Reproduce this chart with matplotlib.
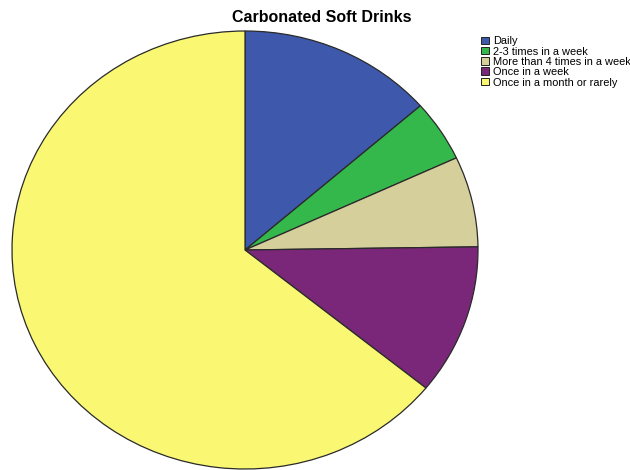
import matplotlib
matplotlib.use("Agg")
import matplotlib.pyplot as plt
from matplotlib.patches import Rectangle

plt.rcParams['font.family'] = ['Liberation Sans', 'DejaVu Sans']

categories = ["Daily", "2-3 times in a week", "More than 4 times in a week",
              "Once in a week", "Once in a month or rarely"]
values = [13.56, 4.53, 6.68, 11.08, 64.15]
colors = ["#3E58AC", "#35B84B", "#D5CF9C", "#7A277A", "#FAF872"]

W, H = 630, 470
fig = plt.figure(figsize=(W / 100, H / 100), dpi=100)
cx, cy, rx, ry = 245, 250, 233, 219
ax = fig.add_axes([(cx - rx) / W, 1 - (cy + ry) / H, 2 * rx / W, 2 * ry / H])
ax.pie(values, colors=colors, startangle=90, counterclock=False,
       wedgeprops=dict(edgecolor="#2a2a2a", linewidth=0.9))
ax.set_aspect('auto')
ax.set_xlim(-1, 1)
ax.set_ylim(-1, 1)
ax.axis('off')

fig.text(321.5 / W, 1 - 17.5 / H, "Carbonated Soft Drinks", ha='center', va='center',
         fontsize=11.5, fontweight='bold')

# legend drawn manually (figure pixel layout)
row0, step = 36.5, 10.3
for i, (lab, c) in enumerate(zip(categories, colors)):
    top = row0 + step * i
    fig.patches.append(Rectangle((481 / W, 1 - (top + 7.5) / H), 8 / W, 7.5 / H,
                                 transform=fig.transFigure, facecolor=c,
                                 edgecolor="#222222", linewidth=0.7))
    fig.text(493 / W, 1 - (top + 4.0) / H, lab, ha='left', va='center_baseline',
             fontsize=7.9)

fig.savefig("out.png", dpi=100)
